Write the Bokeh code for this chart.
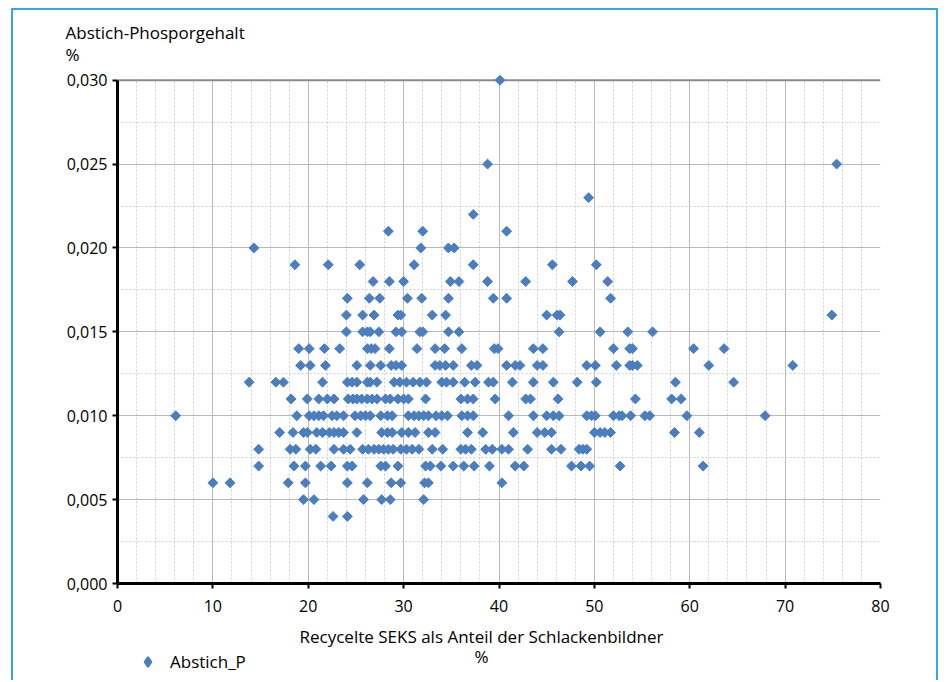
import numpy as np
from bokeh.plotting import figure
from bokeh.layouts import column
from bokeh.models import (Range1d, FixedTicker, CustomJSTickFormatter, Label, Legend,
                          LegendItem, Span, BoxAnnotation, ColumnDataSource, Title)
from bokeh.embed import file_html
from bokeh.resources import INLINE

# x values (Recycelte SEKS, %) for each phosphorus level (%)
p030 = [40.1]
p025 = [38.8, 75.4]
p023 = [49.4]
p022 = [37.3]
p021 = [28.4, 32.0, 40.8]
p020 = [14.3, 31.8, 34.7, 35.3]
p019 = [18.6, 22.1, 25.4, 31.1, 37.3, 45.6, 50.2]
p018 = [26.8, 28.5, 30.0, 34.9, 35.8, 38.8, 42.8, 47.7, 51.4]
p017 = [24.1, 26.4, 27.5, 30.4, 31.9, 34.7, 39.4, 40.8, 51.7]
p016 = [24.0, 25.7, 26.9, 29.4, 29.7, 33.0, 34.4, 45.0, 46.1, 46.4, 74.9]
p015 = [24.0, 25.7, 26.2, 26.5, 27.4, 29.2, 29.8, 31.7, 32.0, 34.7, 35.8, 46.3,
        50.6, 53.5, 56.1]
p014 = [19.0, 20.1, 21.7, 23.3, 26.2, 26.6, 27.0, 28.5, 31.4, 33.3, 34.3, 36.1,
        39.5, 39.9, 43.6, 44.6, 52.0, 53.7, 54.0, 60.4, 63.6]
p013 = [19.2, 20.2, 21.8, 25.1, 26.5, 27.6, 28.7, 29.2, 29.8, 33.3, 33.8, 34.4,
        35.2, 37.1, 37.7, 40.8, 41.7, 42.2, 44.0, 44.6, 49.2, 50.1, 52.3, 53.7,
        54.0, 54.5, 62.0, 70.8]
p012 = [13.8, 16.6, 17.4, 21.5, 24.1, 24.6, 25.1, 26.2, 26.5, 27.2, 29.0, 29.6,
        30.3, 31.0, 31.7, 32.4, 34.0, 34.5, 35.2, 36.4, 37.5, 38.9, 39.4, 41.4,
        43.6, 45.7, 48.2, 50.2, 58.5, 64.6]
p011 = [18.2, 19.9, 21.1, 22.0, 22.7, 24.2, 24.7, 25.1, 25.6, 26.2, 26.7, 27.2,
        28.1, 28.6, 29.4, 30.0, 30.5, 32.3, 36.0, 36.7, 37.3, 39.6, 42.8, 43.3,
        46.2, 54.3, 58.1, 59.1]
p010 = [6.1, 18.8, 20.1, 20.6, 21.1, 21.6, 22.5, 23.0, 23.7, 24.9, 25.5, 26.0,
        26.5, 27.6, 28.3, 28.8, 30.5, 31.1, 31.6, 32.1, 32.6, 33.4, 34.0, 34.6,
        36.1, 36.7, 37.3, 41.0, 43.6, 45.0, 45.7, 46.3, 49.2, 49.7, 50.1, 52.0,
        52.6, 52.9, 53.8, 55.3, 55.8, 59.7, 67.9]
p009 = [17.0, 18.4, 19.5, 19.9, 20.9, 21.5, 22.2, 22.7, 23.2, 23.7, 25.1, 27.7,
        28.3, 28.8, 29.8, 30.5, 31.2, 32.6, 33.3, 36.7, 38.3, 41.5, 44.0, 44.8,
        45.5, 50.0, 50.6, 51.1, 51.7, 58.4, 61.0]
p008 = [14.8, 18.1, 18.7, 20.2, 20.8, 22.7, 23.7, 24.4, 25.7, 26.3, 26.9, 27.4,
        27.9, 28.4, 28.9, 29.7, 30.3, 30.9, 31.6, 33.0, 34.1, 36.0, 36.5, 37.1,
        38.6, 39.3, 40.3, 41.0, 43.0, 45.5, 46.5, 48.4, 48.8, 49.2]
p007 = [14.8, 18.5, 19.7, 21.3, 22.4, 24.1, 24.6, 27.6, 28.1, 29.4, 32.3, 32.8,
        33.9, 35.2, 36.3, 37.4, 39.0, 41.7, 42.6, 47.6, 48.6, 49.5, 52.7, 61.4]
p006 = [10.0, 11.8, 17.9, 19.7, 24.1, 26.2, 28.7, 29.7, 32.2, 32.6, 40.3]
p005 = [19.5, 20.6, 25.8, 27.7, 28.6, 32.1]
p004 = [22.6, 24.1]

levels = [0.030, 0.025, 0.023, 0.022, 0.021, 0.020, 0.019, 0.018, 0.017, 0.016,
          0.015, 0.014, 0.013, 0.012, 0.011, 0.010, 0.009, 0.008, 0.007, 0.006,
          0.005, 0.004]
rows = [p030, p025, p023, p022, p021, p020, p019, p018, p017, p016, p015, p014,
        p013, p012, p011, p010, p009, p008, p007, p006, p005, p004]

xs, ys = [], []
for lv, row in zip(levels, rows):
    xs.extend(row)
    ys.extend([lv] * len(row))

x_ticks = [0, 10, 20, 30, 40, 50, 60, 70, 80]
y_ticks = [0.000, 0.005, 0.010, 0.015, 0.020, 0.025, 0.030]
x_minor = [v for v in range(2, 80, 2) if v % 10 != 0]
y_minor = [0.0025, 0.0075, 0.0125, 0.0175, 0.0225, 0.0275]

FONT = "Open Sans"
FS = "16px"      # tick labels
FT_S = "17px"    # titles and legend
BLUE = "#4a7ebf"
W = 923
H1, H2 = 612, 58

# main chart
p = figure(width=W, height=H1, output_backend="svg", toolbar_location=None,
           x_range=Range1d(0, 80), y_range=Range1d(0, 0.0304),
           min_border_left=104, min_border_right=56, min_border_top=63,
           min_border_bottom=39)
p.outline_line_color = None

# y-axis title (two lines) above the plot, left of the axis
p.add_layout(Title(text="Abstich-Phosporgehalt\n%", align="left", offset=-52,
                   standoff=15, text_font=FONT, text_font_size=FT_S,
                   text_font_style="normal", text_color="black",
                   text_line_height=0.95), "above")

for g in (p.xgrid[0], p.ygrid[0]):
    g.grid_line_color = "#b9b9b9"
    g.grid_line_width = 1
    g.minor_grid_line_color = "#cfcfcf"
    g.minor_grid_line_dash = "2 2"
    g.minor_grid_line_width = 1

p.add_layout(BoxAnnotation(bottom=0.030, fill_color="white", fill_alpha=1,
                           line_alpha=0, level="underlay"))
p.add_layout(Span(location=0.030, dimension="width", line_color="#8a8a8a",
                  line_width=2, level="underlay"))

src = ColumnDataSource(dict(x=xs, y=ys))
r = p.scatter("x", "y", source=src, marker="square", size=7, angle=np.pi / 4,
              fill_color=BLUE, line_color=BLUE, line_width=1)

p.xaxis.ticker = FixedTicker(ticks=x_ticks, minor_ticks=x_minor)
p.yaxis.ticker = FixedTicker(ticks=y_ticks, minor_ticks=y_minor)
p.yaxis.formatter = CustomJSTickFormatter(code="return tick.toFixed(3).replace('.', ',');")
p.yaxis.bounds = (0, 0.030)

for ax in (p.xaxis[0], p.yaxis[0]):
    ax.axis_line_color = "black"
    ax.axis_line_width = 3
    ax.major_tick_line_color = "black"
    ax.major_tick_line_width = 2
    ax.major_tick_out = 5
    ax.major_tick_in = 0
    ax.minor_tick_out = 0
    ax.minor_tick_in = 0
    ax.major_label_text_font = FONT
    ax.major_label_text_font_size = FS
    ax.major_label_text_color = "black"
p.xaxis.major_label_standoff = 11
p.yaxis.major_label_standoff = 5

# footer with the x-axis title and the legend (frame aligned with the main frame)
footer = figure(width=W, height=H2, output_backend="svg", toolbar_location=None,
                x_axis_type=None, y_axis_type=None,
                x_range=Range1d(0, 1), y_range=Range1d(0, 1),
                min_border_left=104, min_border_right=56, min_border_top=0,
                min_border_bottom=0)
footer.outline_line_color = None
footer.xgrid.visible = False
footer.ygrid.visible = False


def txt(fig, x, y, s, align="left"):
    fig.add_layout(Label(x=x, y=y, x_units="screen", y_units="screen", text=s,
                         text_font=FONT, text_font_size=FT_S, text_align=align,
                         text_baseline="middle", text_color="black"))


txt(footer, 364, 44, "Recycelte SEKS als Anteil der Schlackenbildner", "center")
txt(footer, 364, 24, "%", "center")
# legend sample renderer: first data point, lying outside the footer's ranges
lr = footer.scatter(x=xs[:1], y=ys[:1], marker="diamond", size=7,
                    fill_color=BLUE, line_color=BLUE, line_width=2)
legend = Legend(items=[LegendItem(label="Abstich_P", renderers=[lr])],
                location=(18, 6), border_line_alpha=0, background_fill_alpha=0,
                padding=0, margin=0, glyph_width=25, glyph_height=25,
                label_standoff=10, label_text_font=FONT, label_text_font_size=FT_S,
                label_text_color="black", label_text_baseline="middle")
footer.add_layout(legend, "center")

layout = column(p, footer, spacing=0)
layout.margin = (8, 0, 0, 11)
layout.styles = {"border-left": "2px solid #3aa6df",
                 "border-top": "2px solid #3aa6df",
                 "border-right": "2px solid #3aa6df"}

open("out.html", "w").write(file_html(layout, INLINE))
